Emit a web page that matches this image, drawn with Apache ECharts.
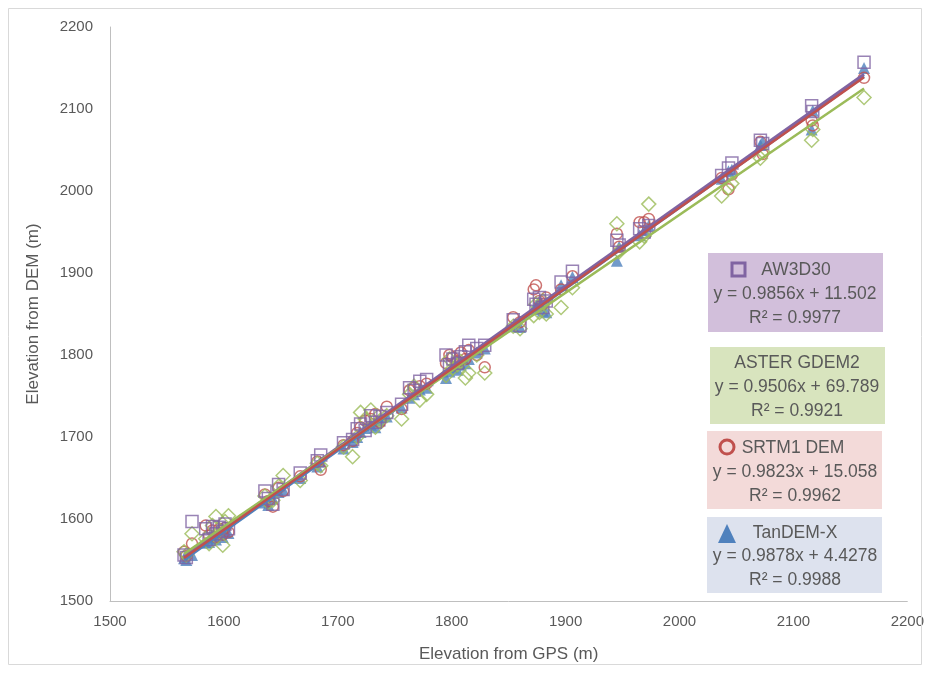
<!DOCTYPE html>
<html>
<head>
<meta charset="utf-8">
<script src="https://cdn.jsdelivr.net/npm/echarts@6/dist/echarts.min.js"></script>
<style>
html,body{margin:0;padding:0;background:#fff;}
#chart{width:927px;height:673px;}
</style>
</head>
<body>
<div id="chart"></div>
<script>
// GPS elevations (x) and DEM elevations for each product
const gps    = [1565,1567,1572,1584,1587,1590,1593,1596,1599,1601,1604,1636,1639,1643,1648,1652,1667,1682,1685,1705,1713,1717,1720,1724,1729,1733,1737,1743,1756,1763,1767,1772,1778,1795,1798,1801,1805,1808,1812,1815,1822,1829,1854,1860,1872,1874,1877,1880,1883,1896,1906,1945,1947,1965,1969,1973,2037,2043,2046,2071,2073,2116,2117,2162];
const aw3d30 = [1556,1553,1597,1588,1575,1591,1582,1590,1585,1594,1588,1634,1625,1618,1642,1636,1656,1671,1678,1693,1697,1710,1716,1708,1726,1718,1725,1730,1740,1760,1757,1768,1770,1800,1788,1795,1790,1798,1804,1812,1808,1812,1843,1836,1868,1862,1870,1858,1866,1889,1902,1940,1934,1954,1950,1958,2019,2028,2034,2062,2058,2104,2097,2157];
const aster  = [1560,1556,1582,1576,1570,1592,1603,1585,1568,1597,1604,1628,1620,1623,1640,1653,1647,1668,1665,1688,1676,1700,1730,1722,1733,1712,1720,1726,1722,1752,1762,1745,1752,1775,1795,1784,1788,1792,1772,1778,1800,1778,1835,1832,1848,1862,1852,1866,1850,1858,1882,1960,1926,1938,1945,1984,1994,2004,2009,2040,2048,2062,2075,2114];
const srtm1  = [1560,1555,1570,1592,1580,1586,1578,1588,1581,1589,1584,1630,1622,1615,1638,1634,1652,1670,1660,1690,1695,1705,1712,1720,1722,1728,1718,1737,1734,1757,1760,1762,1765,1790,1800,1797,1792,1803,1795,1806,1800,1785,1846,1840,1880,1885,1866,1862,1870,1880,1896,1948,1932,1962,1962,1966,2016,2002,2020,2060,2045,2086,2080,2138];
const tandem = [1552,1550,1556,1571,1572,1577,1575,1581,1578,1585,1583,1620,1617,1625,1633,1636,1650,1664,1670,1686,1694,1700,1706,1711,1715,1712,1720,1725,1736,1748,1752,1758,1760,1772,1780,1785,1782,1788,1790,1795,1803,1808,1835,1834,1856,1860,1866,1854,1852,1885,1895,1915,1932,1946,1952,1958,2015,2024,2026,2056,2060,2075,2098,2150];

// Regression coefficients shown in the boxes
const names  = ['AW3D30','ASTER GDEM2','SRTM1 DEM','TanDEM-X'];
const slopes = [0.9856, 0.9506, 0.9823, 0.9878];
const inters = [11.502, 69.789, 15.058, 4.4278];
const r2     = ['0.9977','0.9921','0.9962','0.9988'];

const xTicks = [1500,1600,1700,1800,1900,2000,2100,2200];
const yTicks = [1500,1600,1700,1800,1900,2000,2100,2200];

const C = {purple:'#8064A2', green:'#9BBB59', red:'#C0504D', blue:'#4F81BD'};
const FONT = '"Liberation Sans", Arial, sans-serif';
const TXT = '#595959';

const pairs = arr => gps.map((x,i)=>[x, arr[i]]);
const xmin = Math.min(...gps), xmax = Math.max(...gps);
const trend = k => [[xmin, slopes[k]*xmin+inters[k]],[xmax, slopes[k]*xmax+inters[k]]];

const hollow = (c) => ({color:'rgba(255,255,255,0)', borderColor:c, borderWidth:1.5});

const series = [
  {name:'TanDEM-X', type:'scatter', data:pairs(tandem), symbol:'triangle', symbolSize:12, itemStyle:{color:C.blue}, z:2},
  {name:'SRTM1 DEM', type:'scatter', data:pairs(srtm1), symbol:'circle', symbolSize:11, itemStyle:hollow(C.red), z:3},
  {name:'ASTER GDEM2', type:'scatter', data:pairs(aster), symbol:'diamond', symbolSize:14, itemStyle:hollow(C.green), z:4},
  {name:'AW3D30', type:'scatter', data:pairs(aw3d30), symbol:'rect', symbolSize:12, itemStyle:hollow(C.purple), z:5},
  {type:'line', data:trend(3), symbol:'none', lineStyle:{color:C.blue, width:3}, z:6, silent:true},
  {type:'line', data:trend(0), symbol:'none', lineStyle:{color:C.purple, width:3}, z:7, silent:true},
  {type:'line', data:trend(1), symbol:'none', lineStyle:{color:C.green, width:2.5}, z:8, silent:true},
  {type:'line', data:trend(2), symbol:'none', lineStyle:{color:C.red, width:2.5}, z:9, silent:true}
];

// annotation boxes
const boxes = [
  {x:708, y:253, w:175, h:79, fill:'#D2BFDB', cx:795, rows:[270,294,318]},
  {x:710, y:347, w:175, h:77, fill:'#D8E4BE', cx:797, rows:[363,387,411]},
  {x:707, y:431, w:175, h:78, fill:'#F3DAD9', cx:795, rows:[448,472,496]},
  {x:707, y:517, w:175, h:76, fill:'#DDE2EE', cx:795, rows:[533,556,580]}
];
const textEl = (t, x, y) => ({type:'text', silent:true, style:{text:t, x:x, y:y, font:'17.5px '+FONT, fill:TXT,
  align:'center', verticalAlign:'middle', textAlign:'center', textVerticalAlign:'middle'}, z:20});
const graphic = [
  {type:'rect', shape:{x:8.5, y:8.5, width:913, height:656}, style:{fill:'none', stroke:'#D9D9D9', lineWidth:1}, z:1, silent:true}
];
const titleOffsets = [1, 0, -2, 0];
boxes.forEach((b,k)=>{
  graphic.push({type:'rect', shape:{x:b.x, y:b.y, width:b.w, height:b.h}, style:{fill:b.fill}, z:19, silent:true});
  graphic.push(textEl(names[k], b.cx + titleOffsets[k], b.rows[0]));
  graphic.push(textEl('y = ' + slopes[k].toFixed(4) + 'x + ' + inters[k], b.cx, b.rows[1]));
  graphic.push(textEl('R² = ' + r2[k], b.cx, b.rows[2]));
});
// legend markers inside boxes
graphic.push({type:'rect', shape:{x:732, y:263, width:13, height:13}, style:{fill:'none', stroke:C.purple, lineWidth:3}, z:21, silent:true});
graphic.push({type:'circle', shape:{cx:727, cy:447, r:7}, style:{fill:'none', stroke:C.red, lineWidth:3}, z:21, silent:true});
graphic.push({type:'polygon', shape:{points:[[727,524],[736,543],[718,543]]}, style:{fill:C.blue}, z:21, silent:true});

const chart = echarts.init(document.getElementById('chart'), null, {renderer:'canvas'});
chart.setOption({
  animation:false,
  backgroundColor:'#ffffff',
  grid:{left:110, right:19, top:27, bottom:72, containLabel:false},
  xAxis:{
    type:'value', min:xTicks[0], max:xTicks[xTicks.length-1], interval:100,
    name:'Elevation from GPS (m)', nameLocation:'middle', nameGap:45,
    nameTextStyle:{fontFamily:FONT, fontSize:17, color:TXT},
    axisLine:{show:true, lineStyle:{color:'#BFBFBF', width:1}},
    axisTick:{show:false}, splitLine:{show:false},
    axisLabel:{fontFamily:FONT, fontSize:15, color:TXT, margin:13, formatter: v => String(v)}
  },
  yAxis:{
    type:'value', min:yTicks[0], max:yTicks[yTicks.length-1], interval:100,
    name:'Elevation from DEM (m)', nameLocation:'middle', nameGap:68, nameRotate:90,
    nameTextStyle:{fontFamily:FONT, fontSize:17, color:TXT},
    axisLine:{show:true, lineStyle:{color:'#BFBFBF', width:1}},
    axisTick:{show:false}, splitLine:{show:false},
    axisLabel:{fontFamily:FONT, fontSize:15, color:TXT, margin:17, formatter: v => String(v)}
  },
  series:series,
  graphic:graphic
});
</script>
</body>
</html>
